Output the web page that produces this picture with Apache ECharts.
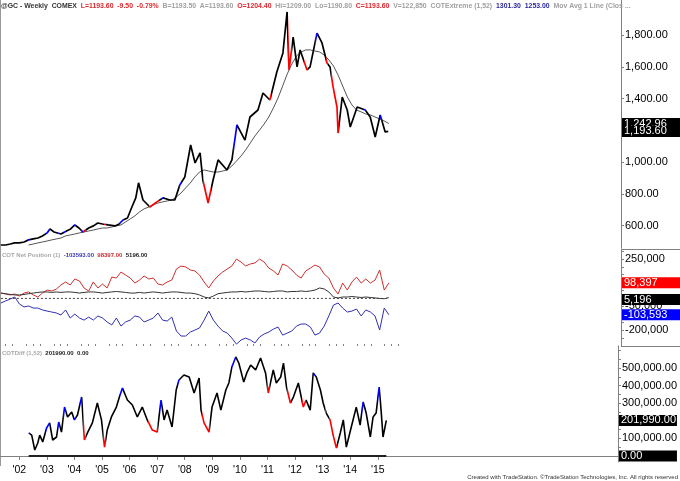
<!DOCTYPE html>
<html><head><meta charset="utf-8">
<script src="https://cdn.jsdelivr.net/npm/echarts@6/dist/echarts.min.js"></script>
<style>html,body{margin:0;padding:0;background:#fff}#c{width:680px;height:481px}</style>
</head><body><div id="c"></div>
<script>
// ---- price panel (@GC weekly), x in decimal years
const priceYears = [2001.33,2001.50,2001.67,2001.83,2002.00,2002.17,2002.33,2002.50,2002.67,2002.83,
  2003.00,2003.10,2003.25,2003.50,2003.70,2003.85,2004.00,2004.15,2004.29,2004.50,
  2004.67,2004.83,2005.00,2005.20,2005.45,2005.60,2005.74,2005.90,2006.06,2006.20,
  2006.30,2006.46,2006.71,2006.96,2007.18,2007.43,2007.61,2007.79,2007.97,2008.18,
  2008.34,2008.52,2008.62,2008.81,2008.99,2009.17,2009.49,2009.67,2009.85,2010.14,
  2010.32,2010.61,2010.79,2011.04,2011.29,2011.51,2011.66,2011.73,2011.88,2012.02,
  2012.13,2012.38,2012.49,2012.74,2012.92,2013.10,2013.21,2013.32,2013.46,2013.50,
  2013.65,2013.83,2013.94,2014.19,2014.48,2014.66,2014.84,2015.02,2015.20,2015.31];
const priceValues = [479,479,485,492,492,498,511,517,523,536,
  555,580,561,548,567,580,605,586,561,586,
  599,617,611,605,599,611,636,649,718,775,
  870,762,718,750,775,762,762,857,907,1108,
  995,1058,888,743,888,1014,951,1014,1234,1139,
  1284,1328,1435,1391,1567,1687,1945,1580,1787,1599,
  1706,1580,1599,1812,1750,1624,1599,1473,1347,1183,
  1410,1328,1221,1347,1328,1284,1158,1297,1190,1193.6];

// ---- two-month sampling for the moving average and COT net positions (May 2001 .. May 2015)
const startYear = 2001, startMonth = 5, stepMonths = 2;
const movAvg = [null,null,null,null,null,null,479,485,492,498, 504,511,517,523,536,542,548,555,561,567,
  573,580,586,586,592,599,605,624,643,662, 687,706,718,731,743,750,756,762,781,806,
  838,869,907,938,951,944,938,938,944,951, 976,1007,1039,1077,1121,1165,1202,1240,1284,1341,
  1404,1479,1555,1618,1668,1693,1706,1706,1699,1693, 1674,1643,1605,1548,1479,1410,1360,1328,1316,1303,
  1297,1284,1272,1259,1242.96];

// ---- COT net position (thousands of contracts)
const netRed = [34,28,22,28,15,34,41,22,9,34, 53,47,59,85,104,85,123,110,66,47,
  104,66,91,66,135,129,167,148,129,97, 116,142,123,129,91,85,104,116,186,205,
  199,180,174,148,104,66,110,142,167,186, 205,249,230,205,218,224,249,230,192,174,
  148,218,205,180,148,129,174,192,211,199, 154,129,66,28,97,53,104,135,97,123,
  97,116,180,53,98.397];
const netBlack = [34,30,25,22,22,25,30,34,38,41, 41,38,41,38,41,41,38,34,38,41,
  41,38,34,38,41,44,41,38,34,34, 38,34,38,41,38,34,38,41,41,38,
  34,34,30,22,9,3,15,30,34,38, 41,41,44,41,44,47,47,44,41,44,
  47,47,41,44,44,47,44,47,53,66, 60,41,9,3,9,9,12,9,6,9,
  6,3,0,-2,5.196];
const netBlue = [-29,-16,-4,9,-35,-54,-48,-61,-61,-73, -80,-86,-92,-105,-73,-124,-99,-124,-137,-118,
  -137,-111,-124,-149,-168,-124,-175,-149,-137,-111, -118,-149,-137,-124,-92,-137,-143,-118,-206,-238,
  -238,-213,-200,-187,-137,-80,-137,-175,-206,-219, -251,-289,-263,-251,-263,-282,-244,-225,-213,-194,
  -181,-232,-219,-206,-175,-162,-162,-181,-232,-219, -175,-111,-42,-29,-61,-86,-80,-67,-111,-73,
  -86,-111,-200,-61,-103.593];

// ---- COTDiff (1,52) (thousands), x in decimal years
const cotDiffYears = [2002.34,2002.45,2002.56,2002.67,2002.74,2002.85,2002.99,2003.10,2003.21,2003.35,
  2003.43,2003.53,2003.64,2003.75,2003.90,2004.00,2004.11,2004.26,2004.36,2004.47,
  2004.65,2004.83,2004.98,2005.09,2005.19,2005.34,2005.52,2005.63,2005.74,2005.92,
  2006.10,2006.28,2006.46,2006.64,2006.82,2007.00,2007.14,2007.25,2007.36,2007.54,
  2007.69,2007.79,2007.97,2008.16,2008.34,2008.52,2008.59,2008.70,2008.88,2008.99,
  2009.17,2009.31,2009.49,2009.60,2009.71,2009.85,2009.96,2010.14,2010.25,2010.39,
  2010.57,2010.75,2010.93,2011.03,2011.21,2011.32,2011.48,2011.58,2011.69,2011.83,
  2011.94,2012.12,2012.30,2012.40,2012.55,2012.66,2012.77,2012.92,2013.02,2013.13,
  2013.27,2013.38,2013.50,2013.64,2013.75,2013.86,2014.04,2014.22,2014.36,2014.47,
  2014.58,2014.73,2014.83,2014.94,2015.05,2015.12,2015.19,2015.31];
const cotDiffValues = [131,119,34,74,119,80,159,188,91,108,
  193,136,278,222,250,205,233,335,91,131,
  188,301,205,51,148,222,278,335,386,318,
  290,222,278,205,148,136,318,205,261,165,
  375,432,460,449,358,443,261,188,136,278,
  358,261,375,415,506,563,528,420,472,517,
  489,557,472,358,489,415,449,528,392,301,
  335,415,278,318,261,472,449,375,301,244,
  205,119,45,131,205,51,165,278,176,307,
  244,108,222,244,392,261,108,201.99];
const cotDiffPlot2 = 0;

// ---- COTExtreme paint periods (decimal years)
const redPeriods = [[2004.31,2004.41],[2005.05,2005.13],[2006.66,2007.03],[2008.62,2008.9],[2010.99,2011.08],
  [2011.7,2011.85],[2012.27,2012.4],[2013.07,2013.13],[2013.24,2013.53]];
const bluePeriods = [[2002.3,2002.4],[2002.97,2003.12],[2003.39,2003.47],[2003.6,2003.68],[2003.97,2004.04],
  [2004.21,2004.29],[2005.64,2005.77],[2007.1,2007.17],[2007.75,2007.83],[2009.7,2009.87],
  [2012.66,2012.77],[2014.43,2014.5],[2015.0,2015.07]];

// ---- last values / ticks
const lastMA = 1242.96, lastClose = 1193.60;
const lastRed = 98397, lastBlack = 5196, lastBlue = -103593, lastDiff = 201990;
const yearTicks = [2002,2003,2004,2005,2006,2007,2008,2009,2010,2011,2012,2013,2014,2015];
const priceLabels = [600,800,1000,1400,1600,1800];
const netLabels = [-200,-50,250];
const diffLabels = [100,300,400,500];

// ---- build
const dates = movAvg.map((_, i) => startYear + (startMonth - 1 + stepMonths * i) / 12);
const pair = arr => arr.map((v, i) => [dates[i], v]);
const zip = (xs, ys) => xs.map((x, i) => [x, ys[i]]);
const xMin = 2001.30, xMax = 2023.71;
const lastX = dates[dates.length - 1];
const FONT = "'Liberation Sans', Arial, sans-serif";
const fmt2 = v => v.toLocaleString('en-US', {minimumFractionDigits: 2, maximumFractionDigits: 2});
const fmt0 = v => Math.round(v).toLocaleString('en-US');
const quarterTicks = [];
for (let y = 2001.5; y <= 2015.8; y += 0.25) if (Math.abs(y - Math.round(y)) > 0.01) quarterTicks.push(y);
const netTicks = [], diffTicks = [];
for (let v = -300; v <= 300; v += 50) netTicks.push(v);
for (let v = 0; v <= 600; v += 50) diffTicks.push(v);

function pieces() {
  return redPeriods.map(p => ({gte: p[0], lte: p[1], color: '#ff0000'}))
    .concat(bluePeriods.map(p => ({gte: p[0], lte: p[1], color: '#0000ff'})));
}
function box(value, text, bg, dy) {
  return {
    yAxis: value,
    lineStyle: {color: 'rgba(0,0,0,0)', width: 0},
    label: {show: true, position: 'end', distance: 1, formatter: text, color: '#fff',
      backgroundColor: bg, fontFamily: FONT, fontSize: 11, lineHeight: 11,
      width: 54, padding: [0, 2, 0, 2], offset: [0, dy || 0]}
  };
}
function markLine(items) {
  return {symbol: ['none', 'none'], silent: true, animation: false, data: items};
}
const axisGray = {color: '#808080'};
function yAx(grid, min, max, tickVals, labelVals, fmt) {
  return {gridIndex: grid, type: 'value', position: 'right', min: min, max: max,
    axisLine: {show: true, lineStyle: axisGray},
    axisTick: {show: true, customValues: tickVals, length: 3, lineStyle: axisGray},
    axisLabel: {customValues: labelVals, formatter: fmt, fontFamily: FONT, fontSize: 11, color: '#000', margin: 4},
    splitLine: {show: false}};
}
const HS = 6.9, LS = 6;
const rich = {
  k: {color: '#333', fontFamily: FONT, fontSize: HS},
  r: {color: '#e0282e', fontFamily: FONT, fontSize: HS},
  g: {color: '#a0a0a0', fontFamily: FONT, fontSize: HS},
  b: {color: '#2a2aa0', fontFamily: FONT, fontSize: HS}
};
const richS = {
  k: {color: '#222', fontFamily: FONT, fontSize: LS},
  r: {color: '#c83232', fontFamily: FONT, fontSize: LS},
  g: {color: '#a8a8a8', fontFamily: FONT, fontSize: LS},
  b: {color: '#3a3ab0', fontFamily: FONT, fontSize: LS}
};

const option = {
  backgroundColor: '#fff',
  animation: false,
  title: [
    {left: 1, top: 3, padding: 0, text: '{k|@GC - Weekly  COMEX}  {r|L=1193.60  -9.50  -0.79%}  {g|B=1193.50  A=1193.60}  {r|O=1204.40}  {g|Hi=1209.00  Lo=1190.80}  {r|C=1193.60}  {g|V=122,850  COTExtreme (1,52)}  {b|1301.30  1253.00}  {g|Mov Avg 1 Line (Clos ...}',
      textStyle: {rich: rich, fontSize: HS}},
    {left: 2, top: 252, padding: 0, text: '{g|COT Net Position (1)}  {b|-103593.00}  {r|98397.00}  {k|5196.00}', textStyle: {rich: richS, fontSize: LS}},
    {left: 2, top: 350, padding: 0, text: '{g|COTDiff (1,52)}  {k|201990.00}  {k|0.00}', textStyle: {rich: richS, fontSize: LS}},
    {right: 2, top: 474, padding: 0, text: 'Created with TradeStation. \u00A9TradeStation Technologies, Inc. All rights reserved',
      textStyle: {fontFamily: FONT, fontSize: 6, fontWeight: 'normal', color: '#333'}}
  ],
  grid: [
    {left: 0, right: 59, top: 0, height: 248},
    {left: 0, right: 59, top: 249, height: 97},
    {left: 0, right: 59, top: 346, height: 116}
  ],
  xAxis: [
    {gridIndex: 0, type: 'value', min: xMin, max: xMax, show: false},
    {gridIndex: 1, type: 'value', min: xMin, max: xMax, show: false},
    {gridIndex: 2, type: 'value', min: xMin, max: xMax,
      axisLine: {show: true, lineStyle: axisGray},
      axisTick: {show: true, customValues: yearTicks, length: 4, lineStyle: axisGray},
      axisLabel: {customValues: yearTicks, formatter: v => "'" + String(Math.round(v)).slice(2),
        fontFamily: FONT, fontSize: 10.5, color: '#000', margin: 3},
      splitLine: {show: false}},
    {gridIndex: 2, type: 'value', min: xMin, max: xMax,
      axisLine: {show: false},
      axisTick: {show: true, customValues: quarterTicks, length: 2, lineStyle: axisGray},
      axisLabel: {show: false}, splitLine: {show: false}}
  ],
  yAxis: [
    yAx(0, 460, 2020, priceLabels, priceLabels, fmt2),
    yAx(1, -301, 312.7, netTicks, netLabels, v => fmt0(v * 1000)),
    yAx(2, -34, 625, diffTicks, diffLabels, v => fmt2(v * 1000))
  ],
  visualMap: [
    {type: 'piecewise', show: false, dimension: 0, seriesIndex: 0, pieces: pieces(), outOfRange: {color: '#000'}},
    {type: 'piecewise', show: false, dimension: 0, seriesIndex: 6, pieces: pieces(), outOfRange: {color: '#000'}}
  ],
  series: [
    {type: 'line', name: 'price', xAxisIndex: 0, yAxisIndex: 0, data: zip(priceYears, priceValues), showSymbol: false,
      lineStyle: {width: 1.7}, z: 3},
    {type: 'line', name: 'movavg', xAxisIndex: 0, yAxisIndex: 0, data: pair(movAvg), showSymbol: false,
      lineStyle: {width: 1, color: '#555'}, z: 2,
      markLine: markLine([box(lastMA, fmt2(lastMA), '#000'), box(lastClose, fmt2(lastClose), '#000')])},
    {type: 'line', name: 'red', xAxisIndex: 1, yAxisIndex: 1, data: pair(netRed), showSymbol: false,
      lineStyle: {width: 1, color: '#cc3030'},
      markLine: markLine([box(lastRed / 1000, fmt0(lastRed), '#ff0000')])},
    {type: 'line', name: 'black', xAxisIndex: 1, yAxisIndex: 1, data: pair(netBlack), showSymbol: false,
      lineStyle: {width: 1, color: '#333'},
      markLine: markLine([box(lastBlack / 1000, fmt0(lastBlack), '#000', 2)])},
    {type: 'line', name: 'blue', xAxisIndex: 1, yAxisIndex: 1, data: pair(netBlue), showSymbol: false,
      lineStyle: {width: 1, color: '#3030b0'},
      markLine: markLine([box(lastBlue / 1000, fmt0(lastBlue), '#0000ff')])},
    {type: 'line', name: 'zero', xAxisIndex: 1, yAxisIndex: 1, data: [[dates[0], 0], [lastX, 0]], showSymbol: false,
      lineStyle: {width: 1, color: '#444', type: [2, 2]}},
    {type: 'line', name: 'cotdiff', xAxisIndex: 2, yAxisIndex: 2, data: zip(cotDiffYears, cotDiffValues), showSymbol: false,
      lineStyle: {width: 1.6}, z: 3},
    {type: 'line', name: 'plot2', xAxisIndex: 2, yAxisIndex: 2,
      data: [[cotDiffYears[0], cotDiffPlot2], [cotDiffYears[cotDiffYears.length - 1], cotDiffPlot2]], showSymbol: false,
      lineStyle: {width: 2, color: '#222'},
      markLine: markLine([box(lastDiff / 1000, fmt2(lastDiff), '#000'), box(cotDiffPlot2, fmt2(cotDiffPlot2), '#000')])}
  ],
  graphic: [
    {type: 'line', shape: {x1: 0.5, y1: 0, x2: 0.5, y2: 466}, style: {stroke: '#999', lineWidth: 1}, silent: true},
    {type: 'line', shape: {x1: 621, y1: 249.5, x2: 680, y2: 249.5}, style: {stroke: '#808080', lineWidth: 1}, silent: true},
    {type: 'line', shape: {x1: 621, y1: 346.5, x2: 680, y2: 346.5}, style: {stroke: '#808080', lineWidth: 1}, silent: true}
  ]
};
const chart = echarts.init(document.getElementById('c'));
chart.setOption(option);
</script>
</body></html>
